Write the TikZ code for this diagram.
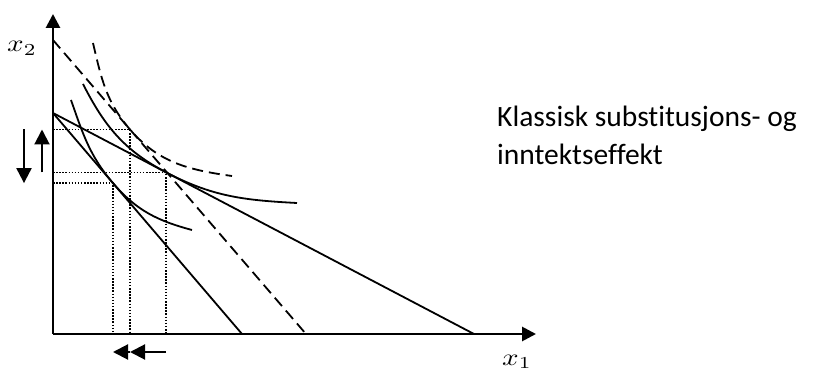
\documentclass[tikz,border=0pt]{standalone}
\usepackage[no-math]{fontspec}
\setmainfont[Ligatures=NoCommon]{Carlito}
\usetikzlibrary{arrows.meta}
\begin{document}
\begin{tikzpicture}[x=1pt,y=1pt,
  axis/.style={line width=2.8pt,-{Triangle[width=14pt,length=14pt]}},
  solidline/.style={line width=1.8pt},
  dashline/.style={line width=1.8pt,dash pattern=on 11pt off 6pt},
  guide/.style={line width=1.5pt,dash pattern=on 1.5pt off 1.6pt},
  effect/.style={line width=2pt,-{Triangle[width=15pt,length=15pt]}},
  lbl/.style={inner sep=0pt,anchor=base west},
  txt/.style={lbl,font=\fontsize{29.5}{36}\selectfont},
  mathlbl/.style={lbl}]
\useasboundingbox (-53,-38) rectangle (774,334);
% axes and key points
\coordinate (O) at (0,0);
\coordinate (ytop) at (0,320);
\coordinate (xend) at (483,0);
\coordinate (L0) at (0,221);
\coordinate (Lorig) at (421,0);
\coordinate (Lsteep) at (189,0);
\coordinate (D0) at (0,294);
\coordinate (D1) at (253,0);
\coordinate (A) at (113,161.7);
\coordinate (B) at (77,204.5);
\coordinate (C) at (60,150.9);
% budget lines
\draw[solidline] (L0) -- (Lorig);
\draw[solidline] (L0) -- (Lsteep);
\draw[dashline] (D0) -- (D1);
% indifference curves
\coordinate (SA) at (30,250);
\coordinate (EA) at (244,131);
\draw[solidline] (SA) to[out=-63,in=152.3] (A) to[out=-27.7,in=177] (EA);
\coordinate (SC) at (18,234);
\coordinate (EC) at (139,104);
\draw[solidline] (SC) to[out=-70.6,in=130.5] (C) to[out=-49.5,in=165] (EC);
\coordinate (SB) at (40,291);
\coordinate (EB) at (179,158);
\draw[dashline] (SB) to[out=-76.8,in=130.7] (B) to[out=-49.3,in=172] (EB);
% guide lines
\draw[guide] (O |- A) -- (A) -- (A |- O);
\draw[guide] (O |- B) -- (B) -- (B |- O);
\draw[guide] (O |- C) -- (C) -- (C |- O);
% axes
\draw[axis] (O) -- (ytop);
\draw[axis] (O) -- (xend);
% effect arrows
\coordinate (ux) at (-11,0);
\coordinate (dx) at (-29,0);
\coordinate (bx) at (0,-18);
\draw[effect] (ux |- A) -- (ux |- B);
\draw[effect] (dx |- B) -- (dx |- C);
\draw[effect] (A |- bx) -- (B |- bx);
\draw[effect] (B |- bx) -- (C |- bx);
% labels
\node[mathlbl] (ylab) at (-46,282) {\scalebox{2.9}[2.4]{$x_2$}};
\node[mathlbl] (xlab) at (449,-31) {\scalebox{2.9}[2.4]{$x_1$}};
\node[txt] (t1) at (444,207) {Klassisk substitusjons- og};
\node[txt] (t2) at (444,169) {inntektseffekt};
\end{tikzpicture}
\end{document}
